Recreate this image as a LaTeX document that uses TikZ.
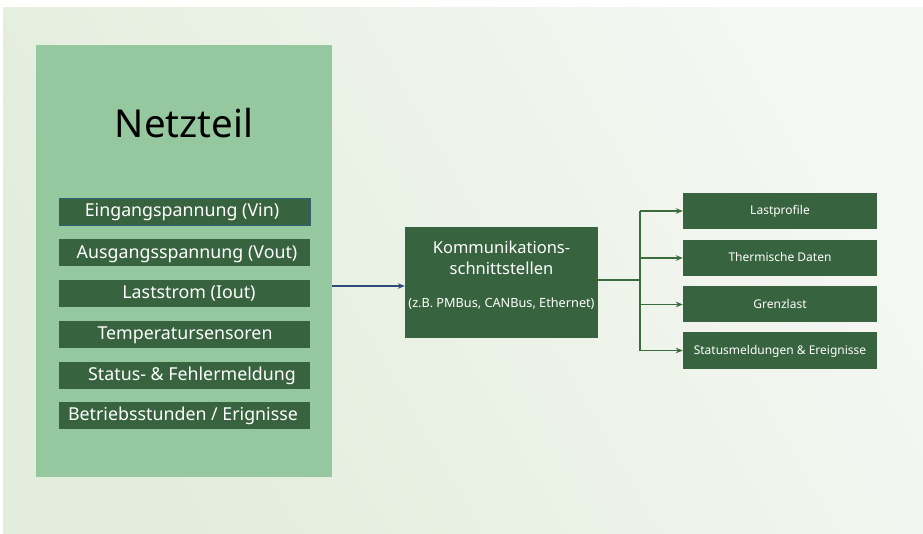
\documentclass[tikz,border=0pt]{standalone}
\usepackage{fontspec}
\setmainfont{Noto Sans}
\usetikzlibrary{arrows.meta}
\definecolor{bgA}{RGB}{245,247,243}
\definecolor{bgB}{RGB}{226,237,219}
\definecolor{lightgreen}{RGB}{150,200,160}
\definecolor{darkgreen}{RGB}{55,99,62}
\definecolor{navyline}{RGB}{45,75,120}
\definecolor{greenline}{RGB}{58,108,62}
\definecolor{bluebord}{RGB}{50,95,125}
\tikzset{
  item/.style={rectangle, fill=darkgreen, minimum width=251pt, minimum height=27pt, inner sep=0pt},
  itemtext/.style={text=white, inner sep=0pt, anchor=base, font=\fontsize{17.8}{20}\selectfont},
  outbox/.style={rectangle, fill=darkgreen, text=white, minimum width=194pt, minimum height=36pt, inner sep=0pt, text height=7.5pt, text depth=0pt, font=\fontsize{12}{14}\selectfont},
  commtext/.style={text=white, inner sep=0pt, anchor=base},
  tip/.style={-{Stealth[length=7pt,width=5.5pt]}},
}
\begin{document}
\begin{tikzpicture}[x=1pt,y=-1pt]
\useasboundingbox (0,0) rectangle (923,534);
\fill[white] (0,0) rectangle (923,534);
\shade[shading=axis, left color=bgA, right color=bgB, shading angle=-60] (3,8) rectangle (923,534);
% big box
\node[rectangle, fill=lightgreen, minimum width=296pt, minimum height=432pt, inner sep=0pt] (big) at (184,261) {};
\node[font=\fontsize{38.5}{44}\selectfont, text=black, inner sep=0pt, anchor=base] (title) at (184,138) {Netzteil};
\node[item, draw=bluebord, line width=0.8pt] (i1) at (184.5,211.5) {};
\node[itemtext] (t1) at (182,217) {Eingangspannung (Vin)};
\node[item] (i2) at (184.5,253) {};
\node[itemtext] (t2) at (187,258.3) {Ausgangsspannung (Vout)};
\node[item] (i3) at (184.5,293.5) {};
\node[itemtext] (t3) at (189,298.8) {Laststrom (Iout)};
\node[item] (i4) at (184.5,334.5) {};
\node[itemtext] (t4) at (185,339.8) {Temperatursensoren};
\node[item] (i5) at (184.5,375.5) {};
\node[itemtext] (t5) at (192,380.8) {Status- \& Fehlermeldung};
\node[item] (i6) at (184.5,415.5) {};
\node[itemtext] (t6) at (183,420.8) {Betriebsstunden / Erignisse};
% comm box
\node[rectangle, fill=darkgreen, minimum width=193pt, minimum height=111pt, inner sep=0pt] (comm) at (501.5,282.5) {};
\node[commtext, font=\fontsize{16.5}{19}\selectfont] (c1) at (501.5,253.3) {Kommunikations-};
\node[commtext, font=\fontsize{16.5}{19}\selectfont] (c2) at (501.5,275) {schnittstellen};
\node[commtext, font=\fontsize{12.7}{15}\selectfont] (c3) at (501.5,307.3) {(z.B. PMBus, CANBus, Ethernet)};
% outputs
\node[outbox] (r1) at (780,211) {Lastprofile};
\node[outbox] (r2) at (780,258) {Thermische Daten};
\node[outbox] (r3) at (780,304.5) {Grenzlast};
\node[outbox] (r4) at (780,350.5) {Statusmeldungen \& Ereignisse};
% connectors
\coordinate (a1) at (332,286);
\draw[navyline, line width=1.3pt, tip] (a1) -- (a1 -| comm.west);
\coordinate (j) at (640,280);
\draw[greenline, line width=1.3pt] (j -| comm.east) -- (j);
\draw[greenline, line width=1.3pt] (j |- r1) -- (j |- r4);
\foreach \r in {r1,r2,r3,r4}{
  \draw[greenline, line width=1.3pt, tip] (j |- \r) -- (\r.west);
}
\end{tikzpicture}
\end{document}
